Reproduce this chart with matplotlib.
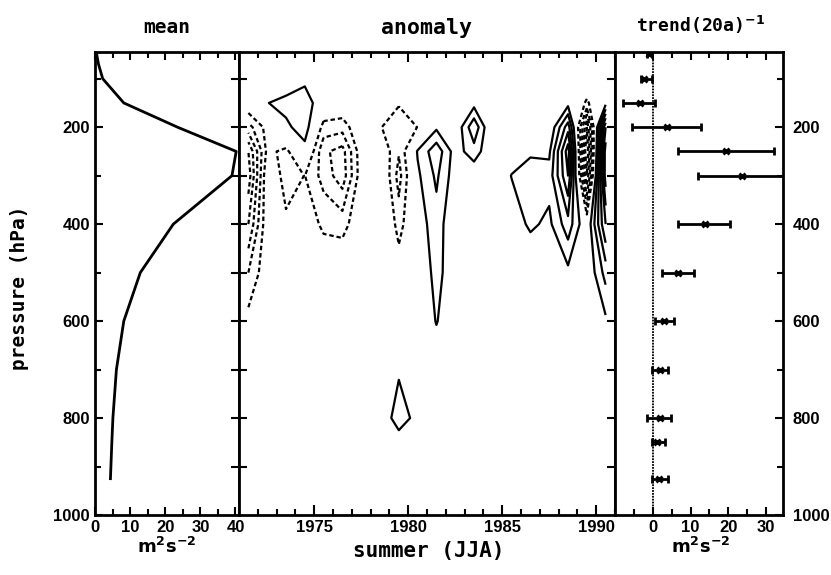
import numpy as np
import matplotlib
matplotlib.use("Agg")
import matplotlib.pyplot as plt
from matplotlib.ticker import MultipleLocator

plt.rcParams["font.family"] = ["Liberation Sans", "DejaVu Sans"]
plt.rcParams["font.weight"] = "bold"
plt.rcParams["axes.linewidth"] = 2.0

# ---- data ----
# mean profile (m2 s-2)
mean_lev = [50, 70, 100, 150, 200, 250, 300, 400, 500, 600, 700, 800, 850, 925]
mean_val = [0.5, 1.0, 2.2, 8.2, 23.5, 40.2, 39.0, 22.3, 12.9, 8.2, 6.1, 5.1, 4.8, 4.4]

# trend per 20 years with error bars (m2 s-2)
trend_lev = [50, 100, 150, 200, 250, 300, 400, 500, 600, 700, 800, 850, 925]
trend_val = [-0.9, -2.3, -3.4, 3.7, 19.4, 23.6, 13.7, 6.7, 2.9, 1.8, 1.8, 1.1, 1.6]
trend_lo = [-1.4, -3.0, -7.8, -5.6, 6.7, 12.1, 6.6, 2.4, 0.5, -0.2, -1.5, -0.2, -0.2]
trend_hi = [-0.2, -0.2, 0.7, 12.8, 32.2, 36.0, 20.4, 10.9, 5.6, 4.0, 4.8, 3.3, 4.0]

# summer anomalies, one column per year (1971..1990), one row per level
anom_years = [1971, 1972, 1973, 1974, 1975, 1976, 1977, 1978, 1979, 1980,
              1981, 1982, 1983, 1984, 1985, 1986, 1987, 1988, 1989, 1990]
anom_lev = [100, 150, 200, 250, 300, 400, 500, 600, 700, 800, 850, 925]
anom = [
    [0, 0, 0.3, 3.6, 0, 0, 0, 0, 0, 0, 0, 0, 0, 0, 0, 0, 0, 1, 0, 0],
    [0, 4.8, 7, 8, 1, 0, 0, -2, -4.5, -1, 0, 0, 3, 0, 0, 0, 0, 3, -6, 3],
    [-12, -3, 3.7, 8, -7, -8, 0, -4.67, -8, -4.9, 4, 0.33, 14, -2, 0, 1, 0, 18, -25, 30],
    [-25, -3.6, -6.4, 2.8, -14, -17, -1.75, 0, -9.5, 5.5, 13.4, 2.5, 7.9, 0, 2, 4, 4, 28, -30, 38],
    [-28, -0.3, -7, -4.9, -12, -18, -2, 2, -12, 4, 11, 2, 1, 0, 5.2, 8, 7, 25, -25, 38],
    [-20, -1, -4.1, -2, -6, -7, -1, 4, -7.3, 2, 8, 0, 0, 0, 2, 6, 3.8, 13, 0, 25],
    [-10, -1, -1, 0, -1, 0, 0, 1, -1.8, 0, 7, 1, 0, 0, 0, 0, 0, 3.6, 0, 12],
    [-3, 0, 0, 0, 0, 0, 0, 0, 0, 0, 5.3, 1, 0, 0, 0, 0, 0, 0, 0, 4],
    [0, 0, 0, 0, 0, 0, 0, 0, 4.2, 0, 1.5, 0, 0, 0, 0, 0, 0, 0, 0, 0],
    [0, 0, 0, 0, 0, 0, 0, 0.5, 8, 3, 0, 0, 0, 0, 0, 0, 0, 0, 0, 0],
    [0, 0, 0, 0, 0, 0, 0, 0, 2, 0, 0, 0, 0, 0, 0, 0, 0, 0, 0, 0],
    [0, 0, 0, 0, 0, 0, 0, 0, 0, 0, 0, 0, 0, 0, 0, 0, 0, 0, 0, 0],
]
clev = [-35, -30, -25, -20, -15, -10, -5, 5, 10, 15, 20, 25, 30, 35]

PTOP, PBOT = 45, 1000
MONO = dict(family="DejaVu Sans Mono", fontweight="bold")

fig = plt.figure(figsize=(8.31, 5.75), dpi=100)
axm = fig.add_axes([0.1143, 0.1043, 0.1733, 0.8052])
axa = fig.add_axes([0.2876, 0.1043, 0.4525, 0.8052])
axt = fig.add_axes([0.7401, 0.1043, 0.2022, 0.8052])

# ---- mean ----
axm.plot(mean_val, mean_lev, color="k", lw=2)
axm.set_xlim(0, 41)
axm.set_ylim(PBOT, PTOP)
axm.set_xticks([0, 10, 20, 30, 40])
axm.xaxis.set_minor_locator(MultipleLocator(5))
axm.set_yticks([200, 400, 600, 800, 1000])
axm.yaxis.set_minor_locator(MultipleLocator(100))
axm.tick_params(which="both", direction="in", top=True, right=False, labelsize=12, width=1.5)
axm.tick_params(which="major", length=6)
axm.tick_params(which="minor", length=4)

# ---- anomaly ----
X, P = np.meshgrid(np.array(anom_years) + 0.5, anom_lev)
styles = [(0, (2.0, 1.3)) if c < 0 else "solid" for c in clev]
axa.contour(X, P, np.array(anom), levels=clev, colors="k", linewidths=1.6,
            linestyles=styles)
axa.set_xlim(1971, 1991)
axa.set_ylim(PBOT, PTOP)
axa.set_xticks([1975, 1980, 1985, 1990])
axa.xaxis.set_minor_locator(MultipleLocator(1))
axa.set_yticks(range(100, 1000, 100))
axa.tick_params(axis="y", which="both", direction="inout", left=True, right=True,
                labelleft=False, length=11, width=1.5)
axa.tick_params(axis="x", which="both", direction="in", top=True, labelsize=12, width=1.5)
axa.tick_params(axis="x", which="major", length=7)
axa.tick_params(axis="x", which="minor", length=4)

# ---- trend ----
tv = np.array(trend_val)
axt.axvline(0, color="k", lw=1.3, ls=(0, (1, 0.6)))
axt.errorbar(tv, trend_lev, xerr=[tv - np.array(trend_lo), np.array(trend_hi) - tv],
             fmt="x", color="k", ms=5, mew=2, elinewidth=2, capsize=3, capthick=2)
axt.set_xlim(-10, 34.5)
axt.set_ylim(PBOT, PTOP)
axt.set_xticks([0, 10, 20, 30])
axt.xaxis.set_minor_locator(MultipleLocator(5))
axt.set_yticks([200, 400, 600, 800, 1000])
axt.yaxis.set_minor_locator(MultipleLocator(100))
axt.yaxis.tick_right()
axt.tick_params(which="both", direction="in", top=True, left=False, right=True,
                labelsize=12, width=1.5)
axt.tick_params(which="major", length=6)
axt.tick_params(which="minor", length=4)
axt.tick_params(axis="y", pad=7)

# ---- labels ----
fig.text(0.2006, 0.952, "mean", ha="center", va="center", fontsize=14, **MONO)
fig.text(0.513, 0.952, "anomaly", ha="center", va="center", fontsize=15.5, **MONO)
fig.text(0.843, 0.957, r"trend(20a)$^{\mathbf{-1}}$", ha="center", va="center",
         fontsize=13, **MONO)
fig.text(0.2006, 0.048, r"$\mathbf{m^2s^{-2}}$", ha="center", va="center", fontsize=13)
fig.text(0.843, 0.048, r"$\mathbf{m^2s^{-2}}$", ha="center", va="center", fontsize=13)
fig.text(0.516, 0.042, "summer (JJA)", ha="center", va="center", fontsize=15, **MONO)
fig.text(0.024, 0.50, "pressure (hPa)", ha="center", va="center", rotation=90,
         fontsize=14, **MONO)

fig.savefig("out.png", dpi=100)
